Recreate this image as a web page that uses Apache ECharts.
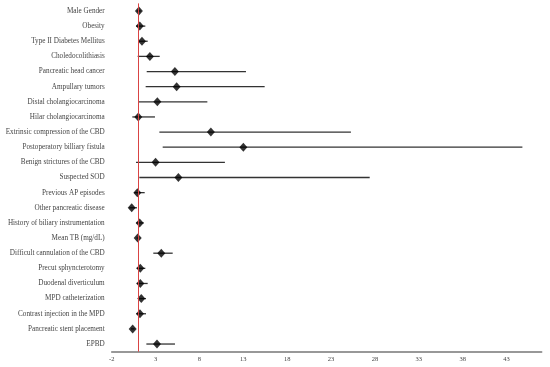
<!DOCTYPE html>
<html><head><meta charset="utf-8">
<script src="https://cdn.jsdelivr.net/npm/echarts@6/dist/echarts.min.js"></script>
<style>html,body{margin:0;padding:0;background:#fff}#c{width:550px;height:367px}</style>
</head><body><div id="c"></div>
<script>
var categories = ["Male Gender","Obesity","Type II Diabetes Mellitus","Choledocolithiasis","Pancreatic head cancer","Ampullary tumors","Distal cholangiocarcinoma","Hilar cholangiocarcinoma","Extrinsic compression of the CBD","Postoperatory billiary fistula","Benign strictures of the CBD","Suspected SOD","Previous AP episodes","Other pancreatic disease","History of biliary instrumentation","Mean TB (mg/dL)","Difficult cannulation of the CBD","Precut sphyncterotomy","Duodenal diverticulum","MPD catheterization","Contrast injection in the MPD","Pancreatic stent placement","EPBD"];
var oddsRatio = [1.1,1.2,1.45,2.35,5.2,5.4,3.2,1.03,9.3,13.0,3.0,5.6,0.92,0.28,1.19,0.96,3.65,1.26,1.26,1.37,1.22,0.39,3.16];
var ciLow  = [0.9,0.77,1.07,0.96,1.99,1.87,1.11,0.35,3.43,3.81,0.77,1.15,0.57,0.0,0.8,0.85,2.74,0.85,0.85,1.03,0.8,0.2,1.95];
var ciHigh = [1.3,1.83,2.1,3.47,13.3,15.43,8.9,2.93,25.26,44.8,10.9,27.4,1.76,0.88,1.65,1.08,4.95,1.83,2.1,1.91,1.91,0.6,5.21];
var xMin = -2, xMax = 47, xStep = 5, refValue = 1;

var ciData = categories.map(function(c,i){return [ciLow[i], ciHigh[i], i];});
var ptData = categories.map(function(c,i){return [oddsRatio[i], i];});

var chart = echarts.init(document.getElementById('c'));
chart.setOption({
  animation:false,
  grid:{left:111.7, right:8.3, top:3.4, bottom:15.4, outerBoundsMode:'none', containLabel:false},
  xAxis:{type:'value', min:xMin, max:xMax, interval:xStep,
    splitLine:{show:false},
    axisLine:{show:true, lineStyle:{color:'#777', width:1.5}},
    axisTick:{show:false},
    axisLabel:{fontFamily:'Liberation Serif', fontSize:6.5, color:'#444', margin:4, showMaxLabel:false}},
  yAxis:{type:'category', data:categories, inverse:true,
    axisLine:{show:false}, axisTick:{show:false}, splitLine:{show:false},
    axisLabel:{fontFamily:'Liberation Serif', fontSize:7.2, color:'#444', margin:7}},
  series:[
    {type:'custom', data:ciData, encode:{x:[0,1], y:2},
     renderItem:function(params, api){
       var p1 = api.coord([api.value(0), api.value(2)]);
       var p2 = api.coord([api.value(1), api.value(2)]);
       return {type:'line', shape:{x1:p1[0], y1:p1[1], x2:p2[0], y2:p2[1]},
               style:{stroke:'#333', lineWidth:1.3}};
     }, z:2},
    {type:'scatter', data:ptData, symbol:'diamond', symbolSize:[8,9],
     itemStyle:{color:'#000'}, z:3,
     markLine:{silent:true, symbol:'none', label:{show:false},
       lineStyle:{color:'#d94444', type:'solid', width:1},
       data:[{xAxis:refValue}]}}
  ]
});
</script></body></html>
